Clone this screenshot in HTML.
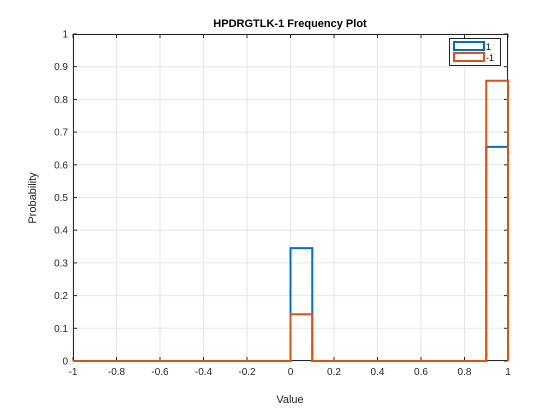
<!DOCTYPE html>
<html><head><meta charset="utf-8"><style>
body{margin:0;background:#fff;}
svg{display:block;font-family:"Liberation Sans",sans-serif;}
</style></head><body>
<svg id="c" width="560" height="420">
<rect width="560" height="420" fill="#fff"/>
</svg>
<script>
const binEdges=[-1,-0.9,-0.8,-0.7,-0.6,-0.5,-0.4,-0.3,-0.2,-0.1,0,0.1,0.2,0.3,0.4,0.5,0.6,0.7,0.8,0.9,1];
const series1=[0,0,0,0,0,0,0,0,0,0,0.345,0,0,0,0,0,0,0,0,0.655];
const seriesNeg1=[0,0,0,0,0,0,0,0,0,0,0.143,0,0,0,0,0,0,0,0,0.857];
const xTicks=[-1,-0.8,-0.6,-0.4,-0.2,0,0.2,0.4,0.6,0.8,1];
const yTicks=[0,0.1,0.2,0.3,0.4,0.5,0.6,0.7,0.8,0.9,1];
const seriesNames=["1","-1"];
const NS="http://www.w3.org/2000/svg";
const svg=document.getElementById('c');
const L=73,R=508,T=34,B=361;
const xs=v=>L+(v+1)/2*(R-L);
const ys=v=>B-v*(B-T);
function mk(tag,attrs,parent){const e=document.createElementNS(NS,tag);for(const k in attrs)e.setAttribute(k,attrs[k]);(parent||svg).appendChild(e);return e;}
const g=mk('g',{});


xTicks.forEach(t=>{mk('line',{x1:xs(t),x2:xs(t),y1:T,y2:B,stroke:'#e6e6e6','stroke-width':1},g);});
yTicks.forEach(t=>{mk('line',{x1:L,x2:R,y1:ys(t),y2:ys(t),stroke:'#e6e6e6','stroke-width':1},g);});
const ax=mk('rect',{x:L+0.5,y:T+0.5,width:R-L-1,height:B-T-1,fill:'none',stroke:'#262626','stroke-width':1});


xTicks.forEach(t=>{
 mk('line',{x1:xs(t),x2:xs(t),y1:B,y2:B-4,stroke:'#262626'});
 mk('line',{x1:xs(t),x2:xs(t),y1:T,y2:T+4,stroke:'#262626'});
 const tx=mk('text',{x:xs(t),y:B+14,'font-size':10,'text-anchor':'middle',fill:'#262626'});
 tx.textContent=String(t);
 
 
});
yTicks.forEach(t=>{
 mk('line',{x1:L,x2:L+4,y1:ys(t),y2:ys(t),stroke:'#262626'});
 mk('line',{x1:R,x2:R-4,y1:ys(t),y2:ys(t),stroke:'#262626'});
 const tx=mk('text',{x:L-5,y:ys(t)+3.5,'font-size':10,'text-anchor':'end',fill:'#262626'});
 tx.textContent=String(t);
 
 
});
function stairs(vals,color,name){
 let d='M'+xs(binEdges[0])+','+ys(0);
 vals.forEach((v,i)=>{d+=' L'+xs(binEdges[i])+','+ys(v)+' L'+xs(binEdges[i+1])+','+ys(v);});
 d+=' L'+xs(binEdges[binEdges.length-1])+','+ys(0);
 // verticals back down at each bin edge
 vals.forEach((v,i)=>{if(v>0){d+=' M'+xs(binEdges[i])+','+ys(0)+' L'+xs(binEdges[i])+','+ys(v)+' M'+xs(binEdges[i+1])+','+ys(0)+' L'+xs(binEdges[i+1])+','+ys(v);}});
 const p=mk('path',{d:d,fill:'none',stroke:color,'stroke-width':2});
 
 
}
stairs(series1,'#0072bd','series-1-histogram');
stairs(seriesNeg1,'#d95319','series-neg1-histogram');
const ti=mk('text',{x:290,y:27,'font-size':11,'font-weight':'bold','text-anchor':'middle',fill:'#000'});
ti.textContent='HPDRGTLK-1 Frequency Plot';


const xl=mk('text',{x:290,y:403,'font-size':11,'text-anchor':'middle',fill:'#262626'});
xl.textContent='Value';


const yl=mk('text',{x:0,y:0,'font-size':11,'text-anchor':'middle',fill:'#262626',transform:'translate(36,198) rotate(-90)'});
yl.textContent='Probability';


const lg=mk('g',{});


mk('rect',{x:449.5,y:38.5,width:51,height:27,fill:'#fff',stroke:'#262626','stroke-width':1},lg);
const cols=['#0072bd','#d95319'];
seriesNames.forEach((n,i)=>{
 const r=mk('rect',{x:454,y:42+i*11,width:30,height:8,fill:'none',stroke:cols[i],'stroke-width':2},lg);
 
 
 const t=mk('text',{x:486,y:50+i*11,'font-size':9,fill:'#000'},lg);
 t.textContent=n;
 
 
});
</script>
</body></html>
